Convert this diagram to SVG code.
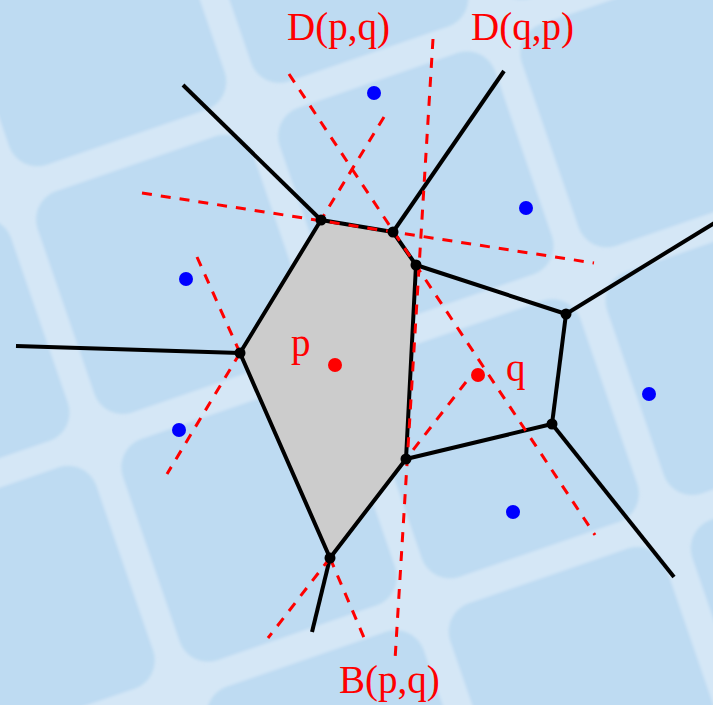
<svg xmlns="http://www.w3.org/2000/svg" width="713" height="705" viewBox="0 0 713 705">
  <style>
    .edge { stroke: #000; stroke-width: 4; fill: none; stroke-linecap: butt; }
    .bis { stroke: #ff0000; stroke-width: 3; fill: none; stroke-dasharray: 10 9; }
    .vtx { fill: #000; }
    .site { fill: #0000ff; }
    .psite { fill: #ff0000; }
    .lbl { fill: #ff0000; font-family: "Liberation Serif", "Times New Roman", serif; font-size: 39px; }
  </style>
  <defs>
    <filter id="soft" x="-5%" y="-5%" width="110%" height="110%">
      <feGaussianBlur stdDeviation="1.4"/>
    </filter>
    <pattern id="tiles" patternUnits="userSpaceOnUse" x="-53" y="-77" width="256" height="262" patternTransform="rotate(-19)">
      <rect width="256" height="262" fill="#d5e7f6"/>
      <rect x="14" y="14" width="228" height="234" rx="30" fill="#bedbf2" filter="url(#soft)"/>
    </pattern>
  </defs>
  <rect id="background" width="713" height="705" fill="url(#tiles)"/>

  <g id="cell-p">
    <polygon points="321,220 393,232 416,265 406,459 330,558 240,353" fill="#cccccc" stroke="#000" stroke-width="4" stroke-linejoin="round"/>
  </g>

  <g id="connectors">
    <g id="voronoi-edges">
      <line class="edge" x1="321" y1="220" x2="183" y2="85"/>
      <line class="edge" x1="393" y1="232" x2="504" y2="71"/>
      <line class="edge" x1="416" y1="265" x2="566" y2="314"/>
      <line class="edge" x1="566" y1="314" x2="716" y2="222"/>
      <line class="edge" x1="566" y1="314" x2="552" y2="424"/>
      <line class="edge" x1="552" y1="424" x2="406" y2="459"/>
      <line class="edge" x1="552" y1="424" x2="674" y2="577"/>
      <line class="edge" x1="240" y1="353" x2="16" y2="346"/>
      <line class="edge" x1="330" y1="558" x2="312" y2="632"/>
    </g>
    <g id="bisectors">
      <line class="bis" x1="289" y1="74" x2="595" y2="535"/>
      <line class="bis" x1="384" y1="117" x2="321" y2="220"/>
      <line class="bis" x1="142" y1="193" x2="594" y2="263"/>
      <line class="bis" x1="433" y1="39" x2="395" y2="660"/>
      <line class="bis" x1="197" y1="257" x2="240" y2="353"/>
      <line class="bis" x1="240" y1="353" x2="167" y2="474"/>
      <line class="bis" x1="330" y1="558" x2="268" y2="638"/>
      <line class="bis" x1="330" y1="558" x2="365" y2="640"/>
      <line class="bis" x1="466" y1="382" x2="406" y2="459"/>
    </g>
  </g>

  <g id="vertices">
    <circle class="vtx" cx="321" cy="220" r="5.5"/>
    <circle class="vtx" cx="393" cy="232" r="5.5"/>
    <circle class="vtx" cx="416" cy="265" r="5.5"/>
    <circle class="vtx" cx="566" cy="314" r="5.5"/>
    <circle class="vtx" cx="552" cy="424" r="5.5"/>
    <circle class="vtx" cx="406" cy="459" r="5.5"/>
    <circle class="vtx" cx="330" cy="558" r="5.5"/>
    <circle class="vtx" cx="240" cy="353" r="5.5"/>
  </g>

  <g id="sites">
    <circle class="site" cx="374" cy="93" r="7"/>
    <circle class="site" cx="526" cy="208" r="7"/>
    <circle class="site" cx="186" cy="279" r="7"/>
    <circle class="site" cx="179" cy="430" r="7"/>
    <circle class="site" cx="649" cy="394" r="7"/>
    <circle class="site" cx="513" cy="512" r="7"/>
  </g>
  <g id="site-p">
    <circle class="psite" cx="335" cy="365" r="7"/>
    <text class="lbl" x="291" y="356">p</text>
  </g>
  <g id="site-q">
    <circle class="psite" cx="478" cy="375" r="7"/>
    <text class="lbl" x="506" y="381">q</text>
  </g>

  <g id="labels">
    <text class="lbl" x="287" y="40">D(p,q)</text>
    <text class="lbl" x="471" y="40">D(q,p)</text>
    <text class="lbl" x="339" y="693">B(p,q)</text>
  </g>
</svg>
